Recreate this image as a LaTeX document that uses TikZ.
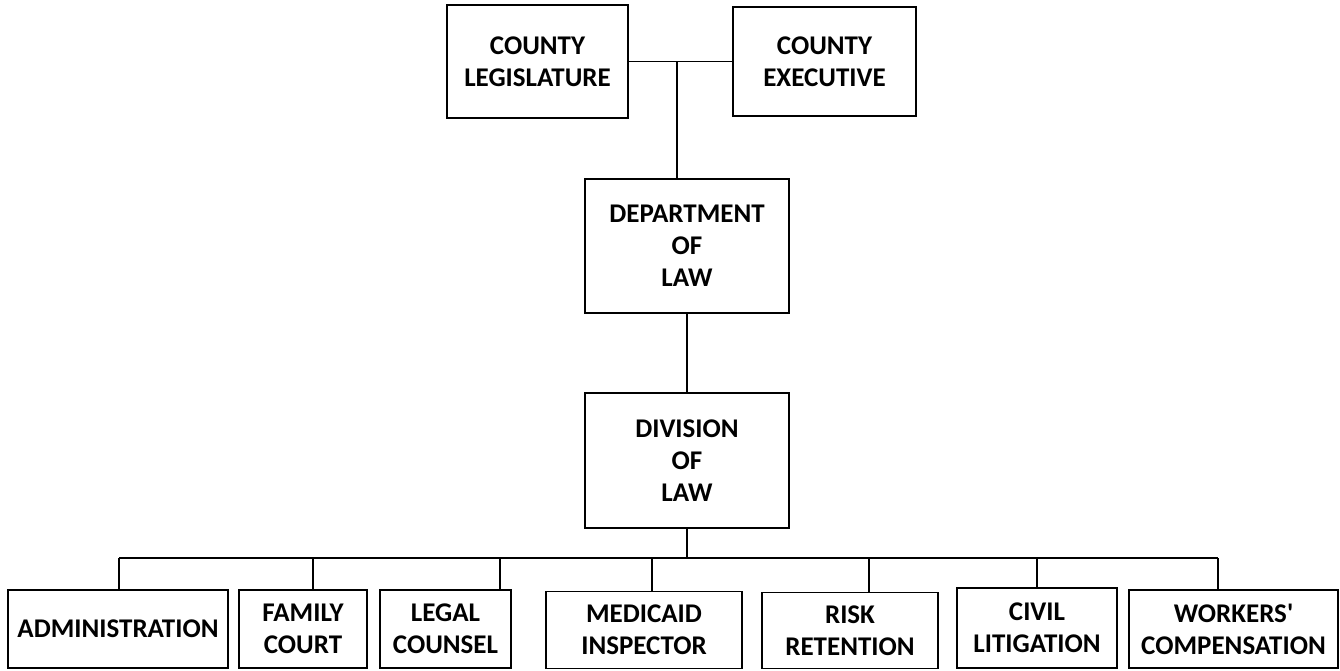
\documentclass[tikz,border=0pt]{standalone}
\usepackage{fontspec}
\setmainfont{Carlito}
\begin{document}
\begin{tikzpicture}[x=1pt,y=-1pt,
  box/.style={draw, line width=1.3pt, font=\fontsize{27}{32}\selectfont\bfseries, align=center, inner sep=0pt, anchor=center},
  link/.style={line width=1.1pt}]
\useasboundingbox (0,0) rectangle (1340,671);
% top level
\node[box, minimum width=181pt, minimum height=113pt] (leg) at (537.5,61.5) {COUNTY\\LEGISLATURE};
\node[box, minimum width=183pt, minimum height=109pt] (exe) at (824.5,61.5) {COUNTY\\EXECUTIVE};
\node[box, minimum width=204pt, minimum height=134pt] (dept) at (687,246) {DEPARTMENT\\OF\\LAW};
\node[box, minimum width=204pt, minimum height=135pt] (div) at (687,460.5) {DIVISION\\OF\\LAW};
% bottom row
\node[box, minimum width=220pt, minimum height=78pt] (adm) at (118,629) {ADMINISTRATION};
\node[box, minimum width=128pt, minimum height=78pt] (fam) at (303,629) {FAMILY\\COURT};
\node[box, minimum width=131pt, minimum height=78pt] (leg2) at (445.5,629) {LEGAL\\COUNSEL};
\node[box, minimum width=196pt, minimum height=77pt] (med) at (644,630) {MEDICAID\\INSPECTOR};
\node[box, minimum width=176pt, minimum height=76pt] (risk) at (850,630.5) {RISK\\RETENTION};
\node[box, minimum width=160pt, minimum height=80pt] (civ) at (1037,628) {CIVIL\\LITIGATION};
\node[box, minimum width=209pt, minimum height=78pt] (wrk) at (1233.5,629) {WORKERS\textquotesingle\\COMPENSATION};
% connectors
\draw[link] (leg) -- (exe);
\coordinate (tj) at (677,61.5);
\draw[link] (tj) -- (tj |- dept.north);
\draw[link] (dept) -- (div);
\coordinate (bA) at (119,558);
\coordinate (bF) at (313,558);
\coordinate (bL) at (500,558);
\coordinate (bM) at (652,558);
\coordinate (bR) at (869,558);
\coordinate (bC) at (1037,558);
\coordinate (bW) at (1218,558);
\draw[link] (bA) -- (bW);
\draw[link] (div.south) -- (div.south |- bA);
\draw[link] (bA) -- (bA |- adm.north);
\draw[link] (bF) -- (bF |- fam.north);
\draw[link] (bL) -- (bL |- leg2.north);
\draw[link] (bM) -- (bM |- med.north);
\draw[link] (bR) -- (bR |- risk.north);
\draw[link] (bC) -- (bC |- civ.north);
\draw[link] (bW) -- (bW |- wrk.north);
\end{tikzpicture}
\end{document}
